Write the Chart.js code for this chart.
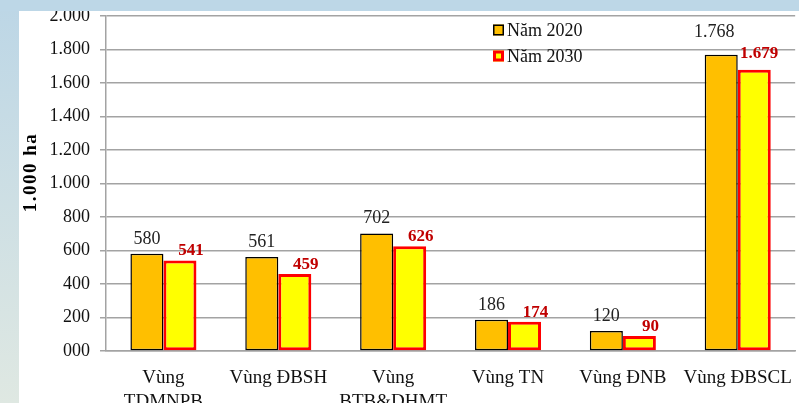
<!DOCTYPE html>
<html lang="vi">
<head>
<meta charset="utf-8">
<title>Diện tích đất lúa theo vùng</title>
<script src="https://cdn.jsdelivr.net/npm/chart.js@4"></script>
<style>
  html, body { margin: 0; padding: 0; }
  body {
    width: 799px; height: 403px; overflow: hidden; position: relative;
    background: linear-gradient(#bcd6e6, #dfe8e2);
  }
  .panel { position: absolute; left: 19px; top: 11px; right: 0; bottom: 0; background: #fff; }
  .band { position: absolute; left: 0; top: 0; right: 0; height: 11px; background: #bdd7e7; z-index: 2; }
  #chart { position: absolute; left: 0; top: 0; }
</style>
</head>
<body>
<div class="panel"></div>
<canvas id="chart" width="799" height="403"></canvas>
<div class="band"></div>
<script>
let regions = [['Vùng', 'TDMNPB'], 'Vùng ĐBSH', ['Vùng', 'BTB&DHMT'], 'Vùng TN', 'Vùng ĐNB', 'Vùng ĐBSCL'];
let area2020 = [580, 561, 702, 186, 120, 1768];
let area2030 = [541, 459, 626, 174, 90, 1679];
let yTickLabels = ['000', '200', '400', '600', '800', '1.000', '1.200', '1.400', '1.600', '1.800', '2.000'];
let yTitle = '1.000 ha';

const serif = '"Liberation Serif", "Times New Roman", serif';
const gridGray = '#a3a3a3';

function dotThousands(v) {
  return String(v).replace(/\B(?=(\d{3})+(?!\d))/g, '.');
}

// value labels above each bar
const barLabels = {
  id: 'barLabels',
  afterDatasetsDraw(chart, args, opts) {
    const ctx = chart.ctx;
    chart.data.datasets.forEach((ds, di) => {
      const meta = chart.getDatasetMeta(di);
      const st = opts.styles[di];
      ctx.save();
      ctx.font = st.font;
      ctx.fillStyle = st.color;
      ctx.textAlign = 'center';
      ctx.textBaseline = 'alphabetic';
      meta.data.forEach((bar, i) => {
        const shift = (opts.shift[i] && opts.shift[i][di]) || [0, 0];
        ctx.fillText(dotThousands(ds.data[i]), bar.x + st.dx + shift[0], bar.y - st.gap + shift[1]);
      });
      ctx.restore();
    });
  }
};

// legend boxes inside the plot, plus the spaced-out rotated axis title
const boxLegend = {
  id: 'boxLegend',
  afterDraw(chart, args, opts) {
    const ctx = chart.ctx;
    const area = chart.chartArea;
    ctx.save();
    ctx.font = '18px ' + serif;
    ctx.textBaseline = 'middle';
    chart.data.datasets.forEach((ds, di) => {
      const y = opts.y + di * opts.spacing;
      const s = 11;
      ctx.fillStyle = ds.backgroundColor;
      ctx.fillRect(opts.x, y - s / 2, s, s);
      ctx.lineWidth = ds.borderWidth;
      ctx.strokeStyle = ds.borderColor;
      const h = ds.borderWidth / 2;
      ctx.strokeRect(opts.x + h, y - s / 2 + h, s - ds.borderWidth, s - ds.borderWidth);
      ctx.fillStyle = '#111';
      ctx.fillText(ds.label, opts.x + s + 3, y + 1);
    });
    ctx.restore();

    ctx.save();
    ctx.translate(opts.titleX, (area.top + area.bottom) / 2 - 10);
    ctx.rotate(-Math.PI / 2);
    ctx.font = 'bold 19px ' + serif;
    ctx.letterSpacing = '1.5px';
    ctx.fillStyle = '#000';
    ctx.textAlign = 'center';
    ctx.textBaseline = 'middle';
    ctx.fillText(yTitle, 1, 0);
    ctx.restore();
  }
};

new Chart(document.getElementById('chart'), {
  type: 'bar',
  data: {
    labels: regions,
    datasets: [{
      label: 'Năm 2020',
      data: area2020,
      backgroundColor: '#ffbf00',
      borderColor: '#000000',
      borderWidth: 1.5,
      borderSkipped: false
    }, {
      label: 'Năm 2030',
      data: area2030,
      backgroundColor: '#ffff00',
      borderColor: '#ff0000',
      borderWidth: 3,
      borderSkipped: false
    }]
  },
  options: {
    responsive: false,
    animation: false,
    layout: { padding: { left: 20, right: 2, top: 16, bottom: 0 } },
    datasets: { bar: { categoryPercentage: 0.575, barPercentage: 1 } },
    scales: {
      x: {
        grid: { display: false },
        border: { display: true, color: gridGray, width: 1.5 },
        ticks: { color: '#111', padding: 7, maxRotation: 0, autoSkip: false,
                 font: { family: serif, size: 19, lineHeight: 1.25 } },
        afterFit: (scale) => { scale.height = 52; }
      },
      y: {
        min: 0,
        max: 2000,
        ticks: {
          stepSize: 200,
          color: '#111',
          padding: 10,
          font: { family: serif, size: 18 },
          callback: (v, i) => yTickLabels[i]
        },
        grid: { color: gridGray, lineWidth: 1.5, tickLength: 6 },
        border: { color: gridGray, width: 1.5 },
        afterFit: (scale) => { scale.width = 86; scale.paddingTop = 0; }
      }
    },
    plugins: {
      legend: { display: false },
      tooltip: { enabled: false },
      barLabels: {
        styles: [
          { font: '18px ' + serif, color: '#222', dx: 0, gap: 10 },
          { font: 'bold 17px ' + serif, color: '#c00000', dx: 11, gap: 5 }
        ],
        shift: { 5: [[-7, -8], [-6, -7]] }
      },
      boxLegend: { x: 493, y: 30, spacing: 26, titleX: 31 }
    }
  },
  plugins: [barLabels, boxLegend]
});
</script>
</body>
</html>
